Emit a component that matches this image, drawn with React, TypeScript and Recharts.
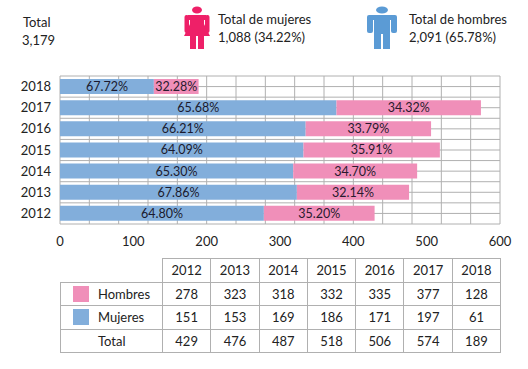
import React from "react";
import {
  BarChart,
  Bar,
  XAxis,
  YAxis,
  CartesianGrid,
  LabelList,
} from "recharts";

const years = ["2012", "2013", "2014", "2015", "2016", "2017", "2018"];
const blueValues = [278, 323, 318, 332, 335, 377, 128];
const pinkValues = [151, 153, 169, 186, 171, 197, 61];
const totals = [429, 476, 487, 518, 506, 574, 189];
const bluePercents = ["64.80%", "67.86%", "65.30%", "64.09%", "66.21%", "65.68%", "67.72%"];
const pinkPercents = ["35.20%", "32.14%", "34.70%", "35.91%", "33.79%", "34.32%", "32.28%"];
const xTicks = [0, 100, 200, 300, 400, 500, 600];
const gridValues = [
  0, 20, 40, 60, 80, 100, 120, 140, 160, 180, 200, 220, 240, 260, 280, 300,
  320, 340, 360, 380, 400, 420, 440, 460, 480, 500, 520, 540, 560, 580, 600,
];

const BLUE = "#82aedb";
const PINK = "#f08fb9";
const FONT = "Lato, sans-serif";
const FONT_SIZE = 13;
const TEXT = "#222";
const LINE = "#b0b0b0";

const data = years.map((year, i) => ({
  year,
  blue: blueValues[i],
  pink: pinkValues[i],
  bluePct: bluePercents[i],
  pinkPct: pinkPercents[i],
}));

// horizontal grid has two lines per band (edge and centre)
const horizontalLines = ({ offset }: any) => {
  const step = offset.height / 14;
  return Array.from({ length: 15 }, (_, i) => offset.top + i * step);
};

const cell: React.CSSProperties = {
  border: `1px solid ${LINE}`,
  textAlign: "center",
  padding: 0,
  height: 22.5,
  lineHeight: "16px",
};

const TableRow = ({ label, color, values }: { label: string; color?: string; values: number[] }) => (
  <tr>
    <td style={{ ...cell, textAlign: "left", position: "relative", paddingLeft: 37 }}>
      {color && (
        <span
          style={{
            position: "absolute",
            left: 12,
            top: 3,
            width: 16,
            height: 16,
            background: color,
          }}
        />
      )}
      {label}
    </td>
    {values.map((v, i) => (
      <td key={i} style={cell}>
        {v}
      </td>
    ))}
  </tr>
);

const Header = () => (
  <svg
    width={528}
    height={60}
    style={{ position: "absolute", left: 0, top: 0 }}
    fontFamily={FONT}
    fontSize={FONT_SIZE}
    fill={TEXT}
  >
    <text x={23} y={27}>Total</text>
    <text x={22} y={45}>3,179</text>

    <g fill="#ee2068">
      <ellipse cx={197} cy={10} rx={5} ry={3.5} />
      <path d="M188 15 H206 V20 H204 V24 L210 36 H204 V49 H198 V36 H196 V49 H190 V36 H184 L190 24 V20 H188 Z" />
      <rect x={184.5} y={15} width={4.5} height={18} rx={2} />
      <rect x={205} y={15} width={4.5} height={18} rx={2} />
    </g>
    <text x={218} y={24}>Total de mujeres</text>
    <text x={218} y={42}>1,088 (34.22%)</text>

    <g fill="#5b9bd5">
      <ellipse cx={382} cy={10} rx={6} ry={3.5} />
      <path d="M371 15 H393 V20 H390 V49 H383 V34 H381 V49 H374 V20 H371 Z" />
      <rect x={367} y={15} width={6} height={18} rx={2} />
      <rect x={391} y={15} width={6} height={18} rx={2} />
    </g>
    <text x={409} y={24}>Total de hombres</text>
    <text x={409} y={42}>2,091 (65.78%)</text>
  </svg>
);

export default function App() {
  return (
    <div style={{ position: "absolute", left: 0, top: 0, width: 528, height: 369, background: "#fff", overflow: "hidden" }}>
      <Header />
      <BarChart
        width={528}
        height={369}
        data={data}
        layout="vertical"
        margin={{ top: 76, right: 28, bottom: 115, left: 0 }}
        barSize={15}
        style={{ fontFamily: FONT }}
      >
        <CartesianGrid
          stroke={LINE}
          verticalValues={gridValues}
          horizontalCoordinatesGenerator={horizontalLines}
        />
        <XAxis
          type="number"
          domain={[0, 600]}
          ticks={xTicks}
          axisLine={false}
          tickLine={false}
          height={30}
          tickMargin={7}
          tick={{ fill: TEXT, fontSize: FONT_SIZE }}
        />
        <YAxis
          type="category"
          dataKey="year"
          reversed
          width={60}
          axisLine={false}
          tickLine={false}
          tickMargin={3}
          tick={{ fill: TEXT, fontSize: FONT_SIZE }}
        />
        <Bar dataKey="blue" stackId="a" fill={BLUE} isAnimationActive={false}>
          <LabelList dataKey="bluePct" position="center" fill="#1a1a2e" fontSize={12.5} />
        </Bar>
        <Bar dataKey="pink" stackId="a" fill={PINK} isAnimationActive={false}>
          <LabelList dataKey="pinkPct" position="center" fill="#2a1a2e" fontSize={12.5} />
        </Bar>
      </BarChart>
      <table
        style={{
          position: "absolute",
          left: 60,
          top: 258,
          width: 440,
          tableLayout: "fixed",
          borderCollapse: "collapse",
          fontFamily: FONT,
          fontSize: FONT_SIZE,
          color: TEXT,
        }}
      >
        <colgroup>
          <col style={{ width: 102 }} />
          {years.map((y) => (
            <col key={y} style={{ width: 48.3 }} />
          ))}
        </colgroup>
        <tbody>
          <tr>
            <td style={{ ...cell, border: "none" }} />
            {years.map((y) => (
              <td key={y} style={cell}>
                {y}
              </td>
            ))}
          </tr>
          <TableRow label="Hombres" color={PINK} values={blueValues} />
          <TableRow label="Mujeres" color={BLUE} values={pinkValues} />
          <TableRow label="Total" values={totals} />
        </tbody>
      </table>
    </div>
  );
}
